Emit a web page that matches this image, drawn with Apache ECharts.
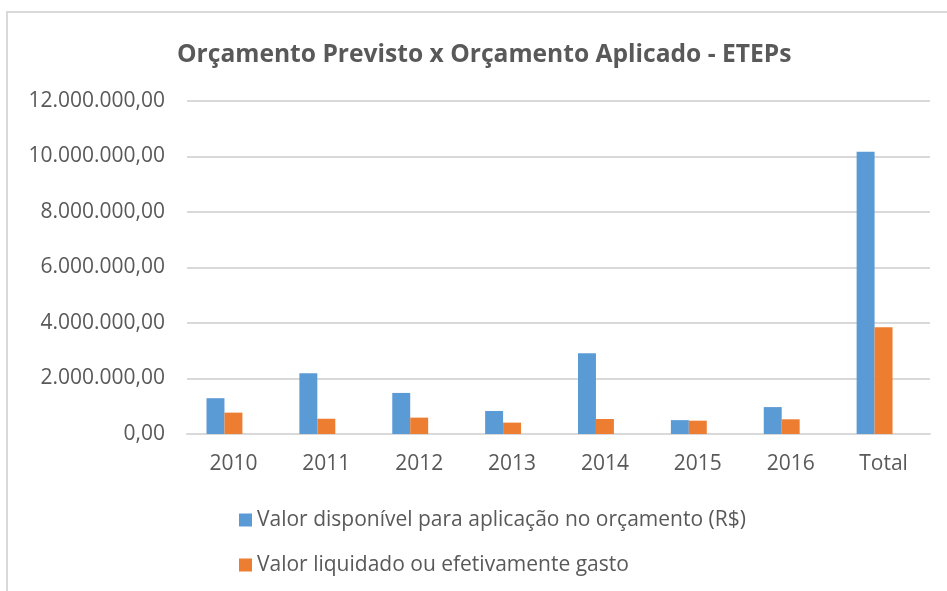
<!DOCTYPE html>
<html>
<head>
<meta charset="utf-8">
<script src="https://cdn.jsdelivr.net/npm/echarts@6/dist/echarts.min.js"></script>
<style>
  html, body { margin: 0; padding: 0; background: #fff; }
  #chart { width: 947px; height: 591px; }
</style>
</head>
<body>
<div id="chart"></div>
<script>
// dados
const categories = ['2010', '2011', '2012', '2013', '2014', '2015', '2016', 'Total'];
const valorDisponivel = [1290000, 2190000, 1480000, 830000, 2910000, 500000, 970000, 10170000];
const valorLiquidado = [770000, 550000, 590000, 410000, 540000, 480000, 530000, 3850000];
// série vazia do Excel que reserva o terceiro espaço em cada categoria
const serieVazia = [null, null, null, null, null, null, null, null];
const yTicks = [0, 2000000, 4000000, 6000000, 8000000, 10000000, 12000000];

const nomes = ['Valor disponível para aplicação no orçamento (R$)', 'Valor liquidado ou efetivamente gasto'];
const fonte = '"Open Sans", sans-serif';
const cinza = '#595959';

function formatBR(v) {
  const s = Math.round(v).toString().replace(/\B(?=(\d{3})+(?!\d))/g, '.');
  return s + ',00';
}

const chart = echarts.init(document.getElementById('chart'));

chart.setOption({
  animation: false,
  backgroundColor: '#fff',
  graphic: [{
    type: 'rect',
    shape: { x: 7, y: 12, width: 960, height: 600 },
    style: { fill: 'none', stroke: '#d9d9d9', lineWidth: 2 },
    silent: true
  }],
  title: {
    text: 'Orçamento Previsto x Orçamento Aplicado - ETEPs',
    left: 172,
    top: 37,
    textStyle: { fontFamily: fonte, fontSize: 24.6, fontWeight: 'bold', color: cinza }
  },
  legend: {
    orient: 'vertical',
    left: 234,
    top: 503,
    itemWidth: 13,
    itemHeight: 13,
    itemGap: 21,
    icon: 'rect',
    data: nomes,
    textStyle: { fontFamily: fonte, fontSize: 21, color: cinza, lineHeight: 24 }
  },
  grid: { left: 187, right: 17, top: 101, bottom: 157 },
  xAxis: {
    type: 'category',
    data: categories,
    axisLine: { lineStyle: { color: '#d9d9d9', width: 2 } },
    axisTick: { show: false },
    axisLabel: { fontFamily: fonte, fontSize: 21, color: cinza, margin: 20 }
  },
  yAxis: {
    type: 'value',
    min: yTicks[0],
    max: yTicks[yTicks.length - 1],
    interval: yTicks[1] - yTicks[0],
    axisLine: { show: false },
    axisTick: { show: false },
    splitLine: { lineStyle: { color: '#d9d9d9', width: 2 } },
    axisLabel: { fontFamily: fonte, fontSize: 21, color: cinza, margin: 22, formatter: formatBR }
  },
  series: [
    {
      name: nomes[0],
      type: 'bar',
      data: valorDisponivel,
      barGap: 0,
      barCategoryGap: '42%',
      itemStyle: { color: '#5b9bd5' }
    },
    {
      name: nomes[1],
      type: 'bar',
      data: valorLiquidado,
      itemStyle: { color: '#ed7d31' }
    },
    {
      name: '',
      type: 'bar',
      data: serieVazia,
      itemStyle: { color: '#a5a5a5' }
    }
  ]
});
</script>
</body>
</html>
